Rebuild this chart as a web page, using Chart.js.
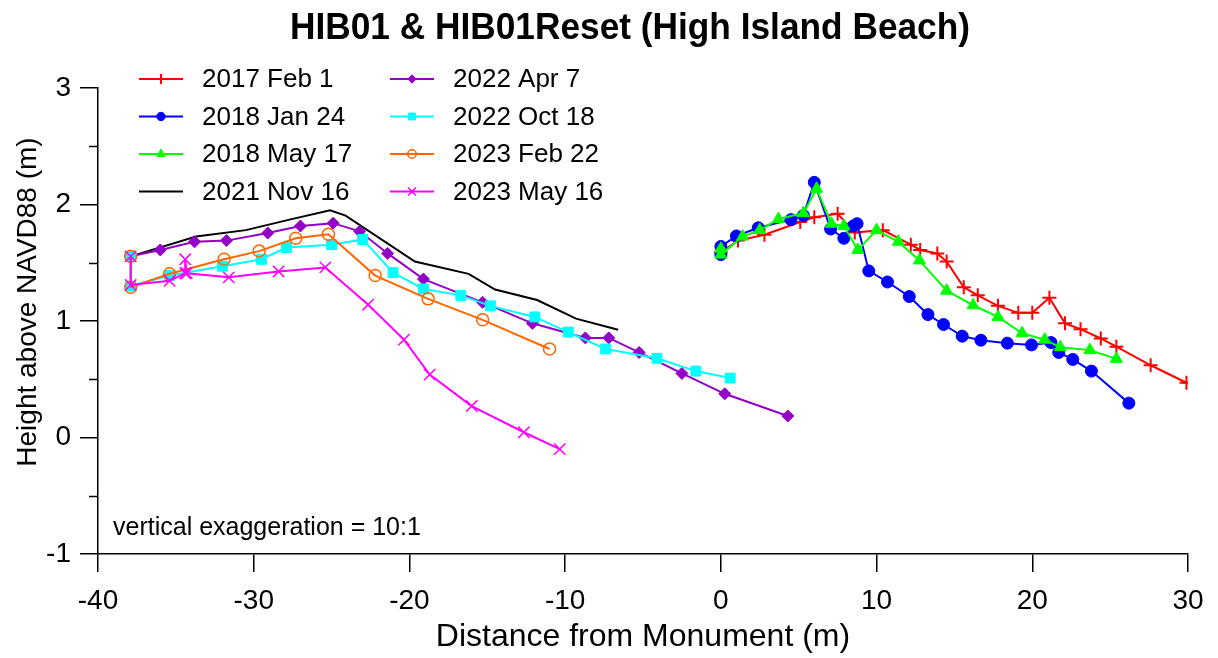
<!DOCTYPE html>
<html>
<head>
<meta charset="utf-8">
<title>HIB01 &amp; HIB01Reset (High Island Beach)</title>
<script src="https://cdn.jsdelivr.net/npm/chart.js@4.4.1/dist/chart.umd.min.js"></script>
<style>
  html, body { margin: 0; padding: 0; background: #fff; }
</style>
</head>
<body>
<canvas id="canvas" width="1218" height="658"></canvas>
<script>
const FONT = '"Liberation Sans", Arial, Helvetica, sans-serif'

// survey labels, in legend order
const surveys = ['2017 Feb 1', '2018 Jan 24', '2018 May 17', '2021 Nov 16',
  '2022 Apr 7', '2022 Oct 18', '2023 Feb 22', '2023 May 16']

// distance from monument (m) and height above NAVD88 (m)
const feb2017X = [0.0, 1.1, 2.8, 5.1, 6.0, 7.5, 8.6, 10.4, 12.2, 12.8, 13.9, 14.5, 15.6, 16.5, 17.8, 19.1, 20.0, 21.1, 22.1, 23.1, 24.4, 25.4, 27.6, 29.9]
const feb2017Y = [1.59, 1.69, 1.74, 1.85, 1.89, 1.92, 1.76, 1.78, 1.655, 1.61, 1.58, 1.51, 1.29, 1.22, 1.13, 1.07, 1.07, 1.20, 0.98, 0.93, 0.85, 0.78, 0.62, 0.47]

const jan2018X = [0.0, 0.0, 1.0, 2.4, 4.5, 5.3, 6.0, 7.05, 7.9, 8.5, 8.75, 9.5, 10.7, 12.1, 13.3, 14.3, 15.5, 16.7, 18.4, 19.95, 21.2, 21.7, 22.6, 23.8, 26.2]
const jan2018Y = [1.57, 1.64, 1.73, 1.80, 1.87, 1.905, 2.19, 1.79, 1.71, 1.815, 1.835, 1.43, 1.335, 1.21, 1.055, 0.97, 0.87, 0.835, 0.81, 0.795, 0.815, 0.73, 0.67, 0.57, 0.295]

const may2018X = [0.0, 0.0, 1.4, 2.5, 3.7, 5.3, 6.15, 7.1, 7.9, 8.8, 10.0, 11.4, 12.75, 14.5, 16.2, 17.8, 19.35, 20.8, 21.8, 23.7, 25.4]
const may2018Y = [1.62, 1.57, 1.725, 1.78, 1.875, 1.925, 2.135, 1.835, 1.815, 1.61, 1.78, 1.68, 1.52, 1.26, 1.135, 1.035, 0.895, 0.84, 0.775, 0.75, 0.675]

const nov2021X = [-37.9, -33.7, -30.5, -27.7, -25.1, -24.1, -19.65, -16.2, -14.5, -11.8, -9.3, -6.6]
const nov2021Y = [1.555, 1.725, 1.78, 1.87, 1.95, 1.905, 1.51, 1.405, 1.27, 1.18, 1.02, 0.925]

const apr2022X = [-37.9, -36.0, -33.8, -31.75, -29.1, -27.0, -24.9, -23.2, -21.4, -19.1, -15.3, -12.1, -8.7, -7.2, -5.25, -2.5, 0.25, 4.3]
const apr2022Y = [1.555, 1.61, 1.68, 1.69, 1.755, 1.815, 1.84, 1.77, 1.58, 1.36, 1.16, 0.98, 0.855, 0.855, 0.73, 0.55, 0.375, 0.185]

const oct2022X = [-37.9, -37.9, -35.4, -32.0, -29.5, -27.9, -25.0, -23.0, -21.05, -19.1, -16.7, -14.8, -11.95, -9.8, -7.4, -4.1, -1.6, 0.6]
const oct2022Y = [1.555, 1.30, 1.39, 1.47, 1.53, 1.63, 1.655, 1.70, 1.415, 1.275, 1.22, 1.13, 1.035, 0.905, 0.76, 0.68, 0.57, 0.51]

const feb2023X = [-37.9, -37.9, -35.4, -31.9, -29.65, -27.3, -25.2, -22.2, -18.8, -15.3, -11.0]
const feb2023Y = [1.555, 1.29, 1.405, 1.53, 1.60, 1.71, 1.745, 1.39, 1.19, 1.01, 0.76]

const may2023X = [-37.9, -37.9, -35.4, -34.4, -34.4, -34.3, -31.6, -28.4, -25.4, -22.65, -20.35, -18.7, -16.0, -12.65, -10.35]
const may2023Y = [1.555, 1.31, 1.345, 1.41, 1.53, 1.41, 1.375, 1.425, 1.46, 1.14, 0.84, 0.54, 0.27, 0.045, -0.10]

const xTicks = [-40, -30, -20, -10, 0, 10, 20, 30]
const yTicks = [-1, 0, 1, 2, 3]
const yMinorTicks = [-0.5, 0.5, 1.5, 2.5]

function pts(xs, ys) {
  return xs.map((x, i) => ({ x: x, y: ys[i] }))
}

function series(i, xs, ys, color, style, radius, filled, pointWidth) {
  return {
    label: surveys[i],
    data: pts(xs, ys),
    borderColor: color,
    backgroundColor: color,
    borderWidth: 2,
    pointStyle: style,
    pointRadius: radius,
    pointHoverRadius: radius,
    pointBackgroundColor: filled ? color : 'rgba(0,0,0,0)',
    pointBorderColor: color,
    pointBorderWidth: pointWidth,
    order: 8 - i,
    tension: 0,
  }
}

const datasets = [
  series(0, feb2017X, feb2017Y, '#ff0000', 'cross', 7, true, 2),
  series(1, jan2018X, jan2018Y, '#0000ff', 'circle', 6, true, 1),
  series(2, may2018X, may2018Y, '#00ff00', 'triangle', 7, true, 1),
  series(3, nov2021X, nov2021Y, '#000000', 'circle', 0, true, 0),
  series(4, apr2022X, apr2022Y, '#9400c8', 'rectRot', 6, true, 1),
  series(5, oct2022X, oct2022Y, '#00ffff', 'rect', 7, true, 1),
  series(6, feb2023X, feb2023Y, '#ff6600', 'circle', 6, false, 1.5),
  series(7, may2023X, may2023Y, '#ff00ff', 'crossRot', 8, true, 1.5),
]

// two column legend inside the top left of the plot
const legendBox = {
  id: 'legendBox',
  afterDraw(chart) {
    const ctx = chart.ctx
    const area = chart.chartArea
    ctx.save()
    ctx.font = '26px ' + FONT
    ctx.textBaseline = 'middle'
    chart.data.datasets.forEach((ds, i) => {
      const col = Math.floor(i / 4)
      const row = i % 4
      const x0 = area.left + 41 + col * 251
      const y = area.top - 9 + row * 37.5
      ctx.strokeStyle = ds.borderColor
      ctx.lineWidth = 2
      ctx.beginPath()
      ctx.moveTo(x0, y)
      ctx.lineTo(x0 + 44, y)
      ctx.stroke()
      if (ds.pointRadius > 0 && Chart.helpers && Chart.helpers.drawPoint) {
        ctx.fillStyle = ds.pointBackgroundColor
        ctx.strokeStyle = ds.pointBorderColor
        ctx.lineWidth = ds.pointBorderWidth
        Chart.helpers.drawPoint(ctx, {
          pointStyle: ds.pointStyle,
          radius: ds.pointRadius * 0.7,
          borderWidth: ds.pointBorderWidth,
          rotation: 0,
        }, x0 + 22, y)
      }
      ctx.fillStyle = '#000'
      ctx.fillText(ds.label, x0 + 63, y + 1)
    })
    ctx.restore()
  }
}

// title, height axis title, half-metre ticks and the note
const extras = {
  id: 'extras',
  afterDraw(chart) {
    const ctx = chart.ctx
    const area = chart.chartArea
    const y = chart.scales.y
    ctx.save()
    ctx.strokeStyle = '#000'
    ctx.lineWidth = 1.5
    yMinorTicks.forEach(v => {
      const p = Math.round(y.getPixelForValue(v)) + 0.5
      ctx.beginPath()
      ctx.moveTo(area.left - 9, p)
      ctx.lineTo(area.left, p)
      ctx.stroke()
    })
    ctx.fillStyle = '#000'
    ctx.textBaseline = 'alphabetic'
    ctx.textAlign = 'left'
    ctx.font = '25px ' + FONT
    ctx.fillText('vertical exaggeration = 10:1', area.left + 15, area.bottom - 19)

    ctx.textAlign = 'center'
    ctx.font = 'bold 37px ' + FONT
    ctx.fillText('HIB01 & HIB01Reset (High Island Beach)', 630, 39, 680)

    ctx.translate(36, 302)
    ctx.rotate(-Math.PI / 2)
    ctx.font = '28px ' + FONT
    ctx.fillText('Height above NAVD88 (m)', 0, 0)
    ctx.restore()
  }
}

const config = {
  type: 'line',
  data: { datasets: datasets },
  plugins: [legendBox, extras],
  options: {
    responsive: false,
    animation: false,
    layout: { padding: { left: 0, right: 30, top: 88, bottom: 0 } },
    plugins: {
      legend: { display: false },
      tooltip: { enabled: false },
      title: { display: false },
    },
    scales: {
      x: {
        type: 'linear',
        min: -40,
        max: 30,
        afterFit: s => { s.height = 104 },
        afterBuildTicks: s => { s.ticks = xTicks.map(v => ({ value: v })) },
        ticks: { color: '#000', font: { family: FONT, size: 28 }, padding: 12, maxRotation: 0 },
        grid: { drawOnChartArea: false, drawTicks: true, tickLength: 18, color: '#000', lineWidth: 1.5 },
        border: { display: true, color: '#000', width: 1.5 },
        title: {
          display: true,
          text: 'Distance from Monument (m)',
          color: '#000',
          font: { family: FONT, size: 32 },
          padding: { top: 0, bottom: 2 },
        },
      },
      y: {
        type: 'linear',
        min: -1,
        max: 3,
        afterFit: s => { s.width = 98 },
        afterBuildTicks: s => { s.ticks = yTicks.map(v => ({ value: v })) },
        ticks: { color: '#000', font: { family: FONT, size: 28 }, padding: 9 },
        grid: { drawOnChartArea: false, drawTicks: true, tickLength: 18, color: '#000', lineWidth: 1.5 },
        border: { display: true, color: '#000', width: 1.5 },
      },
    },
  },
}

const canvas = document.getElementById('canvas')
const chart = new Chart(canvas, config)
</script>
</body>
</html>
